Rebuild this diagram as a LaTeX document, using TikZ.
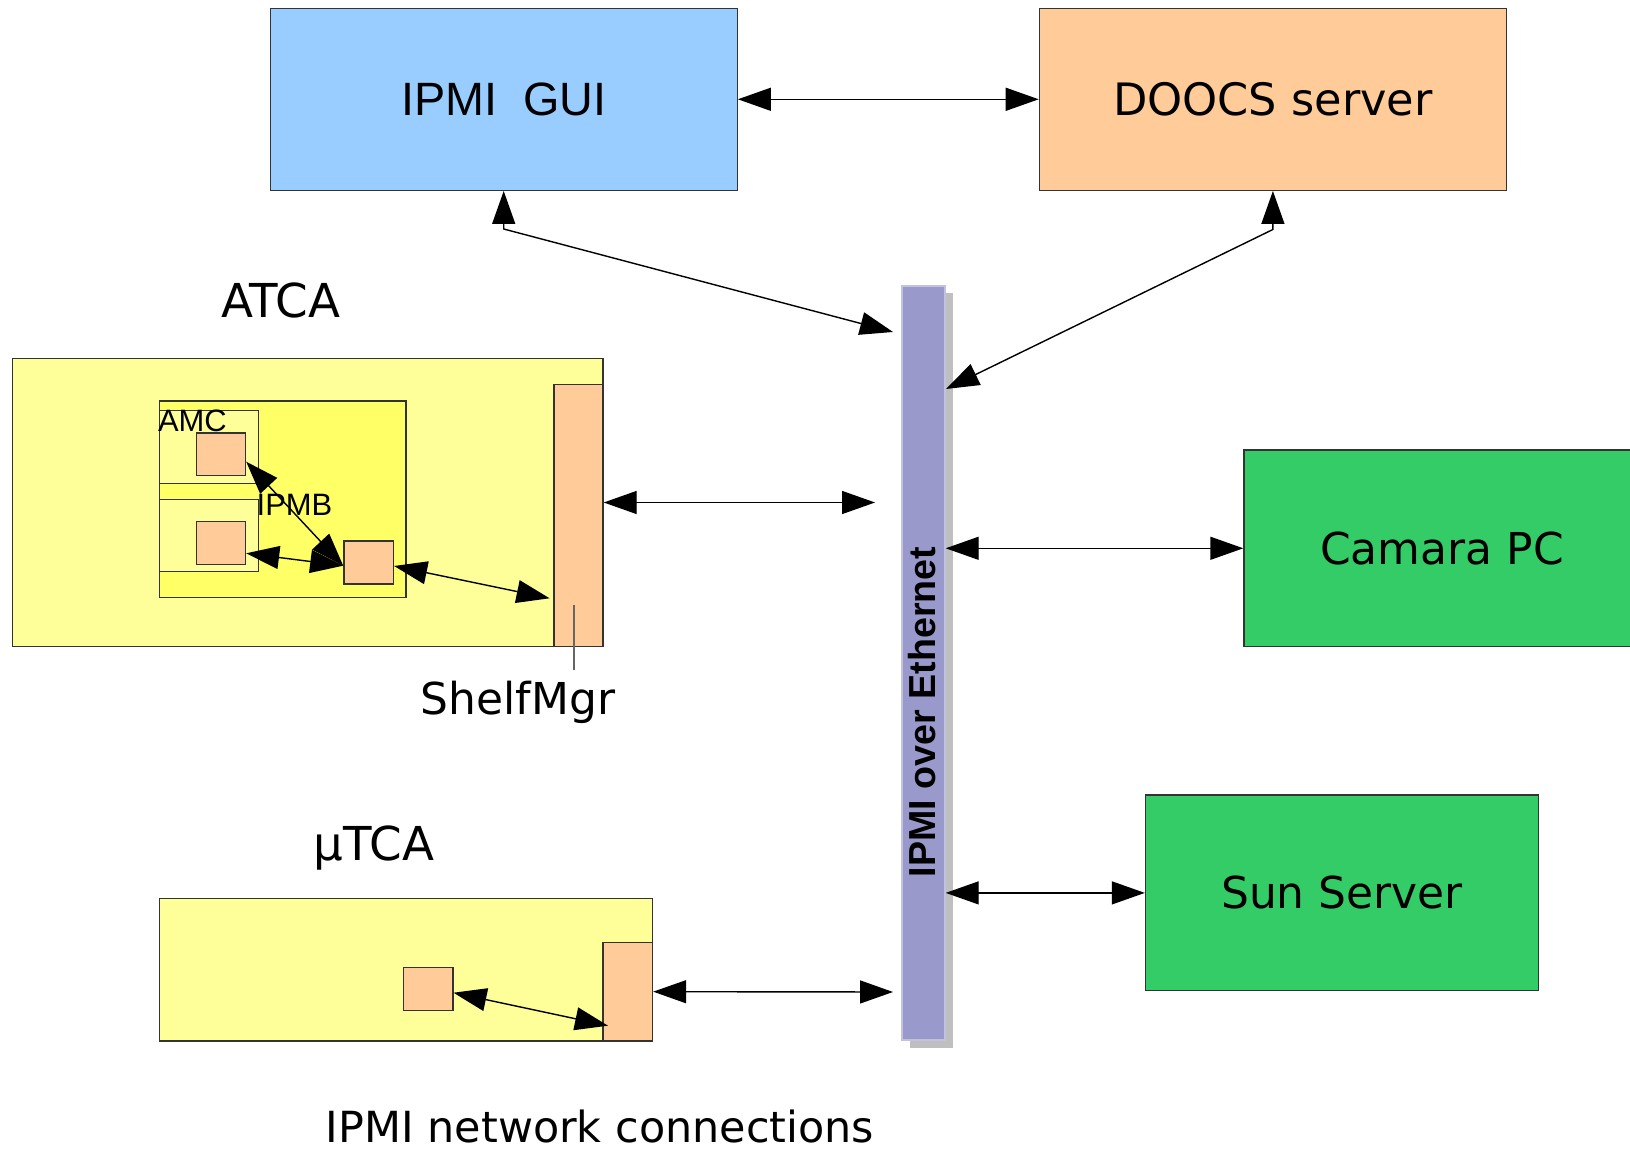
\documentclass[tikz,border=0pt]{standalone}
\usepackage{fontspec}
\setmainfont{DejaVu Sans}
\newfontfamily\arialfont{Liberation Sans}
\usetikzlibrary{arrows.meta,shadows}

\definecolor{guiblue}{HTML}{99CCFF}
\definecolor{doocsorange}{HTML}{FFCC99}
\definecolor{pcgreen}{HTML}{33CC66}
\definecolor{crateyellow}{HTML}{FFFF99}
\definecolor{carrieryellow}{HTML}{FFFF66}
\definecolor{busviolet}{HTML}{9999CC}

\tikzset{
  box/.style={draw=black!80, line width=0.4pt, inner sep=0pt},
  conn/.style={line width=0.4pt, {Triangle[length=3.3mm,width=2.3mm]}-{Triangle[length=3.3mm,width=2.3mm]}},
  big/.style={font=\fontsize{12.5}{15}\selectfont},
  bigger/.style={font=\fontsize{13.3}{16}\selectfont},
  small/.style={font=\arialfont\fontsize{8.8}{10}\selectfont, inner sep=0pt},
}

\begin{document}
\begin{tikzpicture}[x=0.1mm,y=-0.1mm]
  \useasboundingbox (0,0) rectangle (1630,1149);
  % \draw[step=100,gray,very thin] (0,0) grid (1630,1149);
  \node[box,fill=guiblue,minimum width=46.7mm,minimum height=18.2mm,font=\arialfont\fontsize{13.3}{16}\selectfont] (gui) at (503.7,99.3) {IPMI~~GUI};
  \node[box,fill=doocsorange,minimum width=46.7mm,minimum height=18.2mm,font=\fontsize{12.7}{15}\selectfont] (doocs) at (1272.9,99.3) {DOOCS server};
  % ethernet
  \node[box,draw=busviolet!60!white,fill=busviolet,minimum width=4.3mm,minimum height=75.4mm,
    drop shadow={shadow xshift=0.75mm,shadow yshift=-0.75mm,fill=black!25,opacity=1}] (bar) at (923.5,663) {};
  \node[rotate=90,font=\arialfont\bfseries\fontsize{10.7}{12}\selectfont] (barlbl) at (922,712) {IPMI over Ethernet};
  \node[box,fill=pcgreen,minimum width=39.6mm,minimum height=19.66mm,big] (camara) at (1442,548.3) {Camara PC};
  \node[box,fill=pcgreen,minimum width=39.3mm,minimum height=19.57mm,big] (sun) at (1342,892.9) {Sun Server};
  % ATCA
  \node[bigger,anchor=base] (atcalbl) at (280.7,318) {ATCA};
  \node[box,fill=crateyellow,minimum width=59.05mm,minimum height=28.8mm] (atca) at (307.75,502.6) {};
  \node[box,fill=doocsorange,minimum width=4.9mm,minimum height=26.2mm] (shelf) at (578.5,515.5) {};
  \node[box,fill=carrieryellow,minimum width=24.66mm,minimum height=19.67mm] (carrier) at (282.7,499.35) {};
  \node[box,fill=crateyellow,minimum width=9.88mm,minimum height=7.26mm] (amc1) at (208.8,447) {};
  \node[box,fill=crateyellow,minimum width=9.88mm,minimum height=7.2mm] (amc2) at (208.8,535.3) {};
  \node[box,fill=doocsorange,minimum width=4.9mm,minimum height=4.27mm] (mmc1) at (221,454.3) {};
  \node[box,fill=doocsorange,minimum width=4.9mm,minimum height=4.26mm] (mmc2) at (221,543) {};
  \node[box,fill=doocsorange,minimum width=4.94mm,minimum height=4.3mm] (ipmc) at (368.7,562.5) {};
  \node[small,anchor=base west] (amclbl) at (157.4,431.7) {AMC};
  \node[small,anchor=base] (ipmblbl) at (294.5,515.7) {IPMB};
  \node[big,anchor=base] (shelflbl) at (518,715) {ShelfMgr};
  \draw[black!60,line width=0.4pt] (573.8,605) -- (573.8,670);
  % uTCA
  \node[bigger,anchor=base] (utcalbl) at (374,860.7) {µTCA};
  \node[box,fill=crateyellow,minimum width=49.31mm,minimum height=14.27mm] (utca) at (405.95,969.65) {};
  \node[box,fill=doocsorange,minimum width=4.96mm,minimum height=9.87mm] (mch) at (627.7,991.65) {};
  \node[box,fill=doocsorange,minimum width=4.92mm,minimum height=4.26mm] (usq) at (428.2,989) {};
  \node[font=\fontsize{12.2}{15}\selectfont,anchor=base] (caption) at (600,1142) {IPMI network connections};

  % free ends
  \coordinate (e1) at (893,332);
  \coordinate (e2) at (946,389);
  \coordinate (e3) at (875,502.5);
  \coordinate (e4) at (893,992);
  \coordinate (e5) at (343.2,565.7);
  \coordinate (e6) at (549.6,598.3);
  \coordinate (e7) at (608,1025.7);

  \draw[conn] (gui) -- (doocs);
  \draw[conn] (gui.south) -- ++(0,38) -- (e1);
  \draw[conn] (doocs.south) -- ++(0,38.5) -- (e2);
  \draw[conn] (shelf.east |- e3) -- (e3);
  \draw[conn] (bar.east |- camara) -- (camara);
  \draw[conn] (bar.east |- sun) -- (sun);
  \draw[conn] (mch) -- (e4);
  \draw[conn] ([yshift=-0.74mm]mmc1.east) -- (e5);
  \draw[conn] ([yshift=-1.03mm]mmc2.east) -- (e5);
  \draw[conn] ([yshift=-0.35mm]ipmc.east) -- (e6);
  \draw[conn] ([yshift=-0.37mm]usq.east) -- (e7);
\end{tikzpicture}
\end{document}
